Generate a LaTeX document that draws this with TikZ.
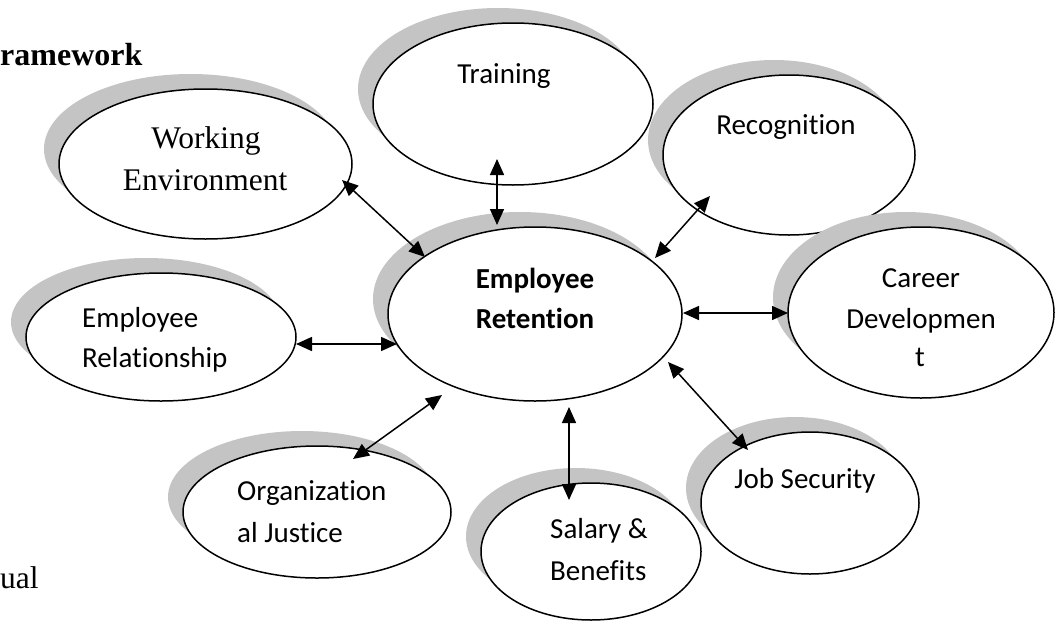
\documentclass[tikz,border=0pt]{standalone}
\usepackage{fontspec}
\setmainfont{Liberation Serif}
\newfontfamily\calibri[Ligatures=NoCommon]{Carlito}
\usetikzlibrary{shapes.geometric,shadows,arrows.meta}
\definecolor{shadowgray}{RGB}{196,196,196}
\tikzset{
  bub/.style={ellipse, draw, line width=1.5pt, fill=white, inner sep=0pt,
    general shadow={shadow xshift=-15pt, shadow yshift=15pt, fill=shadowgray}},
  cal/.style={font=\calibri\fontsize{29}{34}\selectfont, inner sep=0pt, anchor=base},
  calb/.style={font=\calibri\bfseries\fontsize{29}{34}\selectfont, inner sep=0pt, anchor=base},
  tms/.style={font=\fontsize{31.5}{38}\selectfont, inner sep=0pt, anchor=base},
  tmsb/.style={font=\bfseries\fontsize{32}{38}\selectfont, inner sep=0pt, anchor=base west},
  arr/.style={{Triangle[length=16pt,width=14pt]}-{Triangle[length=16pt,width=14pt]}, line width=1.5pt}
}
\begin{document}
\begin{tikzpicture}[x=1pt,y=-1pt]
\useasboundingbox (0,0) rectangle (1056,621);
% bubbles
\node[bub, minimum width=293pt, minimum height=150pt] (we) at (205.5,164) {};
\node[bub, minimum width=280pt, minimum height=162pt] (tr) at (513,104) {};
\node[bub, minimum width=252pt, minimum height=160pt] (rc) at (789,155) {};
\node[bub, minimum width=266pt, minimum height=171pt] (cd) at (921,312.5) {};
\node[bub, minimum width=270pt, minimum height=128pt] (er) at (161,337) {};
\node[bub, minimum width=268pt, minimum height=132pt] (oj) at (317,512) {};
\node[bub, minimum width=220pt, minimum height=137pt] (sb) at (591,551.5) {};
\node[bub, minimum width=218pt, minimum height=142pt] (js) at (810,503) {};
\node[bub, minimum width=294pt, minimum height=174pt] (rt) at (535,314) {};
% texts
\node[tmsb] (fw) at (0,65) {ramework};
\node[tms, anchor=base west] (cp) at (0,588) {ual};
\node[tms] (we1) at (206,148) {Working};
\node[tms] (we2) at (205,190) {Environment};
\node[cal] (tr1) at (504,83) {Training};
\node[cal] (rc1) at (786,134) {Recognition};
\node[cal] (cd1) at (921,287) {Career};
\node[cal] (cd2) at (921,328) {Developmen};
\node[cal] (cd3) at (920,366) {t};
\node[cal, anchor=base west] (er1) at (82,327) {Employee};
\node[cal, anchor=base west] (er2) at (82,367) {Relationship};
\node[calb] (rt1) at (535,288) {Employee};
\node[calb] (rt2) at (535,328) {Retention};
\node[cal, anchor=base west] (oj1) at (237,500) {Organization};
\node[cal, anchor=base west] (oj2) at (237,542) {al Justice};
\node[cal, anchor=base west] (sb1) at (550,538) {Salary \&};
\node[cal, anchor=base west] (sb2) at (550,580) {Benefits};
\node[cal] (js1) at (805,488) {Job Security};
% connector end points
\coordinate (weE) at (342,180); \coordinate (rtWE) at (425,257);
\coordinate (trE) at (497,159); \coordinate (rtTR) at (497,225);
\coordinate (rcE) at (710,196); \coordinate (rtRC) at (655,258);
\coordinate (cdE) at (788,313); \coordinate (rtCD) at (683,313);
\coordinate (erE) at (296,344); \coordinate (rtER) at (397,344);
\coordinate (ojE) at (353,459); \coordinate (rtOJ) at (442,395);
\coordinate (sbE) at (569,500); \coordinate (rtSB) at (569,407);
\coordinate (jsE) at (748,450); \coordinate (rtJS) at (668,362);
% connectors
\draw[arr] (weE) -- (rtWE);
\draw[arr] (trE) -- (rtTR);
\draw[arr] (rcE) -- (rtRC);
\draw[arr] (rtCD) -- (cdE);
\draw[arr] (erE) -- (rtER);
\draw[arr] (ojE) -- (rtOJ);
\draw[arr] (rtSB) -- (sbE);
\draw[arr] (rtJS) -- (jsE);
\end{tikzpicture}
\end{document}
